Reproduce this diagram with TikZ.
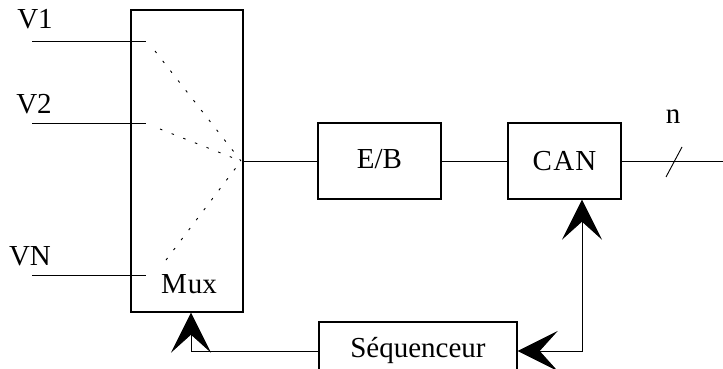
\documentclass[tikz,border=0pt]{standalone}
\usepackage{fontspec}
\setmainfont{Liberation Serif}
\usetikzlibrary{arrows.meta}
\begin{document}
\begin{tikzpicture}[x=1pt,y=-1pt,
  blk/.style={draw,line width=1.4pt,inner sep=0pt},
  wire/.style={line width=0.9pt},
  dots/.style={line width=0.9pt,dash pattern=on 2.5pt off 10pt},
  tip/.tip={Stealth[length=40pt,width=40pt,inset=18pt]},
  big/.style={-tip},
  bigboth/.style={tip-tip},
  lbl/.style={font=\fontsize{29}{32}\selectfont}]
\useasboundingbox (0,0) rectangle (723,369);
% blocks
\node[blk,minimum width=112pt,minimum height=302pt] (mux) at (187,161) {};
\node[blk,lbl,minimum width=123pt,minimum height=76pt] (eb) at (379.5,161) {\raisebox{4pt}{E/B}};
\node[blk,lbl,minimum width=113pt,minimum height=76pt] (can) at (564.5,161) {\raisebox{-1pt}{C\kern1.5pt A\kern1pt N}};
\node[blk,lbl,minimum width=198pt,minimum height=58pt] (seq) at (418,351) {\raisebox{6pt}{Séquenceur}};
% labels
\node[lbl] (l1) at (35,19) {V1};
\node[lbl] (l2) at (34,104) {V2};
\node[lbl] (ln) at (30,256) {VN};
\node[lbl] (lmux) at (189,284) {M\kern1pt ux};
\node[lbl] (ln2) at (673,117) {n};
% inputs
\coordinate (a1) at (32,41);  \coordinate (b1) at (146,41);
\coordinate (a2) at (32,123); \coordinate (b2) at (146,123);
\coordinate (an) at (32,275); \coordinate (bn) at (146,275);
\draw[wire] (a1) -- (b1);
\draw[wire] (a2) -- (b2);
\draw[wire] (an) -- (bn);
% switch dotted lines
\coordinate (c) at (241,161);
\coordinate (d1) at (155,51);
\coordinate (d2) at (160,129);
\coordinate (dn) at (166,260);
\draw[dots] (d1) -- (c);
\draw[dots] (d2) -- (c);
\draw[dots] (dn) -- (c);
% chain
\draw[wire] (mux.east) -- (eb.west);
\draw[wire] (eb.east) -- (can.west);
\coordinate (out) at (723,161);
\draw[wire] (can.east) -- (out);
\coordinate (s1) at (666,177); \coordinate (s2) at (682,147);
\draw[wire] (s1) -- (s2);
% feedback
\draw[wire,big] (seq.west) -| ([xshift=4pt]mux.south);
\draw[wire,bigboth] ([xshift=17.5pt]can.south) |- (seq.east);
\end{tikzpicture}
\end{document}
